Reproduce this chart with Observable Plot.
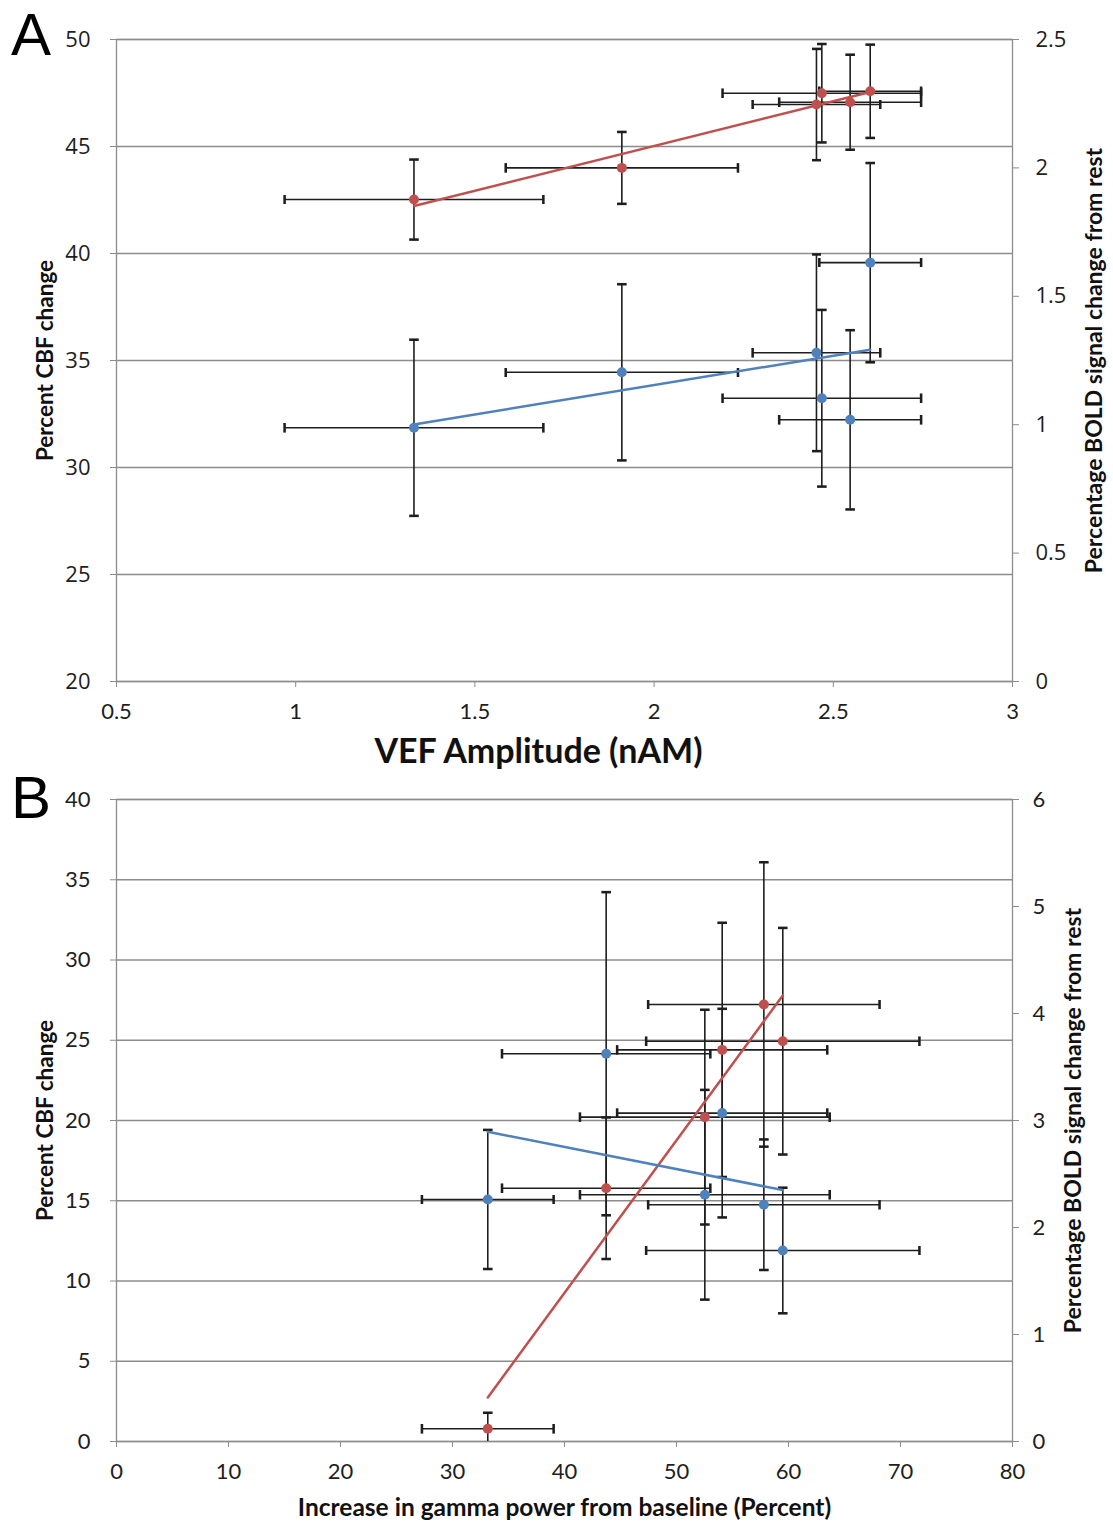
<!DOCTYPE html>
<html><head><meta charset="utf-8">
<script src="https://cdn.jsdelivr.net/npm/d3@7"></script>
<script src="https://cdn.jsdelivr.net/npm/@observablehq/plot@0.6"></script>
<style>
body{margin:0;background:#fff;}
#wrap{position:relative;width:1113px;height:1524px;overflow:hidden;}
.panel-letter{position:absolute;left:11px;font-family:"Liberation Sans",Arial,sans-serif;font-size:60px;line-height:1.15;color:#000;}
svg{display:block}
</style></head><body>
<div id="wrap">
<div id="A"></div><div id="B"></div>
<div class="panel-letter" style="top:0">A</div>
<div class="panel-letter" style="top:763px">B</div>
</div>
<script>
// ---------- Panel A data ----------
const vefX      = [1.33, 1.91, 2.453, 2.468, 2.547, 2.603];
const vefXErr   = [0.361, 0.324, 0.178, 0.277, 0.198, 0.142];
const cbfA      = [42.52, 44.0, 46.96, 47.49, 47.07, 47.58];
const cbfAErr   = [1.87, 1.68, 2.6, 2.3, 2.22, 2.18];
const boldA     = [0.988, 1.204, 1.28, 1.103, 1.019, 1.631];
const boldAErr  = [0.343, 0.343, 0.383, 0.344, 0.349, 0.388];
const aXTicks   = [0.5, 1, 1.5, 2, 2.5, 3];
const aLeftTicks  = [20, 25, 30, 35, 40, 45, 50];
const aRightTicks = [0, 0.5, 1, 1.5, 2, 2.5];

// ---------- Panel B data ----------
const gammaX    = [33.15, 43.72, 52.53, 54.08, 57.8, 59.49];
const gammaXErr = [5.88, 9.3, 11.15, 9.38, 10.33, 12.2];
const cbfB      = [0.79, 15.78, 20.21, 24.4, 27.23, 24.94];
const cbfBErr   = [1.0, 4.41, 6.69, 7.92, 8.86, 7.06];
const boldB     = [2.262, 3.624, 2.306, 3.069, 2.213, 1.785];
const boldBErr  = [0.65, 1.51, 0.98, 0.975, 0.61, 0.587];
const bXTicks   = [0, 10, 20, 30, 40, 50, 60, 70, 80];
const bLeftTicks  = [0, 5, 10, 15, 20, 25, 30, 35, 40];
const bRightTicks = [0, 1, 2, 3, 4, 5, 6];

const RED = "#c0504d", BLUE = "#4f81bd", GRID = "#8c8c8c", INK = "#1e1e1e";
const LABEL_FONT = "Lato, 'Open Sans', sans-serif";

function panel(cfg) {
  const toLeft = v => cfg.off + v * cfg.k;
  const rows = [];
  cfg.x.forEach((x, i) => {
    rows.push({s: "red", x, xe: cfg.xErr[i], y: cfg.red[i], ye: cfg.redErr[i]});
    rows.push({s: "blue", x, xe: cfg.xErr[i], y: toLeft(cfg.blue[i]), ye: cfg.blueErr[i] * cfg.k});
  });
  const redRows = rows.filter(d => d.s === "red");
  const blueRows = rows.filter(d => d.s === "blue");
  const fmt = d => String(+d.toFixed(3));
  return Plot.plot({
    width: 1113, height: cfg.height,
    marginLeft: 116, marginRight: 101, marginTop: cfg.mt, marginBottom: cfg.mb,
    x: {domain: cfg.xDomain, axis: null},
    y: {domain: cfg.yDomain, axis: null},
    style: {background: "white", overflow: "visible"},
    marks: [
      Plot.gridY(cfg.leftTicks, {stroke: GRID, strokeOpacity: 1, strokeWidth: 1.3}),
      Plot.frame({stroke: GRID, strokeWidth: 1.3}),
      Plot.axisY(cfg.leftTicks, {anchor: "left", tickSize: 6, tickPadding: cfg.leftPad, stroke: GRID,
        fill: INK, fontSize: cfg.tickFontSize, fontFamily: cfg.tickFont, label: null, tickFormat: fmt}),
      Plot.axisY(cfg.rightTicks.map(toLeft), {anchor: "right", tickSize: 6, tickPadding: cfg.rightPad, stroke: GRID,
        fill: INK, fontSize: cfg.tickFontSize, fontFamily: cfg.tickFont, label: null,
        tickFormat: d => fmt((d - cfg.off) / cfg.k)}),
      Plot.axisX(cfg.xTicks, {anchor: "bottom", tickSize: 6, tickPadding: cfg.xPad, stroke: GRID,
        fill: INK, fontSize: 22, fontFamily: LABEL_FONT, label: null, tickFormat: fmt}),
      Plot.link(rows, {x1: d => d.x - d.xe, x2: d => d.x + d.xe, y1: "y", y2: "y",
        stroke: INK, strokeWidth: 1.6, markerStart: "tick", markerEnd: "tick", clip: true}),
      Plot.link(rows, {x1: "x", x2: "x", y1: d => d.y - d.ye, y2: d => d.y + d.ye,
        stroke: INK, strokeWidth: 1.6, markerStart: "tick", markerEnd: "tick", clip: true}),
      Plot.linearRegressionY(redRows, {x: "x", y: "y", stroke: RED, strokeWidth: 2.5, ci: 0}),
      Plot.linearRegressionY(blueRows, {x: "x", y: "y", stroke: BLUE, strokeWidth: 2.5, ci: 0}),
      Plot.dot(redRows, {x: "x", y: "y", r: 5, fill: RED}),
      Plot.dot(blueRows, {x: "x", y: "y", r: 5, fill: BLUE}),
      Plot.text([cfg.xLabel], {frameAnchor: "bottom", dx: cfg.xLabelDx, dy: cfg.xLabelDy, lineAnchor: "middle",
        textAnchor: "middle", fontSize: cfg.xLabelSize, fontWeight: "bold", fontFamily: LABEL_FONT, fill: "#111"}),
      Plot.text(["Percent CBF change"], {frameAnchor: "left", rotate: -90, dx: -71, lineAnchor: "middle",
        textAnchor: "middle", fontSize: 22.5, fontWeight: "bold", fontFamily: LABEL_FONT, fill: "#111"}),
      Plot.text(["Percentage BOLD signal change from rest"], {frameAnchor: "right", rotate: -90, dx: cfg.rightLabelDx,
        lineAnchor: "middle", textAnchor: "middle", fontSize: 23, fontWeight: "bold", fontFamily: LABEL_FONT, fill: "#111"})
    ]
  });
}

document.getElementById("A").append(panel({
  x: vefX, xErr: vefXErr, red: cbfA, redErr: cbfAErr, blue: boldA, blueErr: boldAErr,
  off: 20, k: 12, height: 775, mt: 39, mb: 94,
  xDomain: [0.5, 3], yDomain: [20, 50],
  xTicks: aXTicks, leftTicks: aLeftTicks, rightTicks: aRightTicks,
  leftPad: 20, rightPad: 17, tickFontSize: 22, tickFont: "'Open Sans', sans-serif",
  xPad: 16, xLabel: "VEF Amplitude (nAM)", xLabelDx: -26, xLabelDy: 71, xLabelSize: 34, rightLabelDx: 82
}));

document.getElementById("B").append(panel({
  x: gammaX, xErr: gammaXErr, red: cbfB, redErr: cbfBErr, blue: boldB, blueErr: boldBErr,
  off: 0, k: 40 / 6, height: 749, mt: 24, mb: 83,
  xDomain: [0, 80], yDomain: [0, 40],
  xTicks: bXTicks, leftTicks: bLeftTicks, rightTicks: bRightTicks,
  leftPad: 20, rightPad: 14, tickFontSize: 22, tickFont: LABEL_FONT,
  xPad: 16, xLabel: "Increase in gamma power from baseline (Percent)", xLabelDx: 0, xLabelDy: 67, xLabelSize: 24.5, rightLabelDx: 61
}));
</script>
</body></html>
